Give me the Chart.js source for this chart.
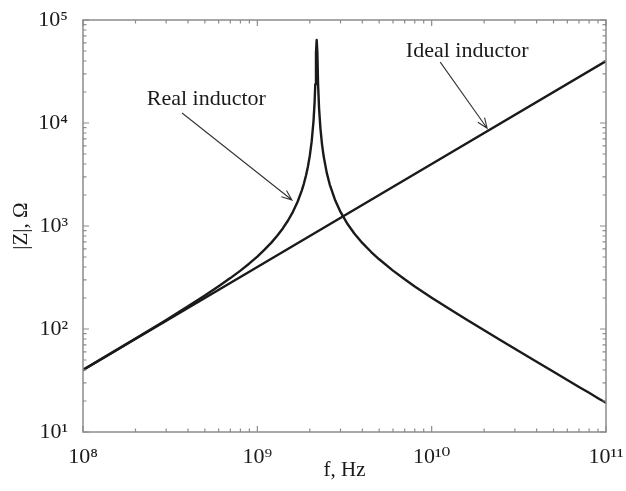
<!DOCTYPE html>
<html>
<head>
<meta charset="utf-8">
<script src="https://cdn.jsdelivr.net/npm/chart.js@4.4.1/dist/chart.umd.min.js"></script>
<style>
  html, body { margin: 0; padding: 0; background: #ffffff; }
  #wrap { width: 626px; height: 491px; }
</style>
</head>
<body>
<div id="wrap"><canvas id="c" width="626" height="491"></canvas></div>
<script>
// ---- data ----
const realFreq = [1.0e8, 1.5e8, 2e8, 3e8, 4e8, 5e8, 6e8, 7e8, 8e8, 9e8,
  1.0e9, 1.1e9, 1.2e9, 1.3e9, 1.4e9, 1.5e9, 1.6e9, 1.7e9, 1.8e9, 1.85e9,
  1.9e9, 1.95e9, 2.0e9, 2.05e9, 2.1e9, 2.13e9, 2.15e9, 2.17e9, 2.19e9,
  2.21e9, 2.23e9, 2.26e9, 2.3e9, 2.35e9, 2.4e9, 2.5e9, 2.6e9, 2.8e9,
  3.0e9, 3.3e9, 3.6e9, 4.0e9, 4.5e9, 5e9, 6e9, 7e9, 8e9, 1e10, 1.3e10,
  1.6e10, 2e10, 2.5e10, 3e10, 4e10, 5e10, 6e10, 7e10, 8e10, 9e10, 1e11];
const realZ = [40.1, 60.3, 80.7, 122, 166, 211, 260, 312, 369, 433,
  505, 589, 686, 803, 947, 1130, 1373, 1711, 2219, 2584,
  3073, 3765, 4819, 6624, 10435, 15760, 23760, 47950, 64000,
  48300, 24170, 13920, 8930, 6206, 4776, 3299, 2540, 1765,
  1369, 1039, 846, 685, 559, 475, 369, 304, 259, 201.5, 152,
  122, 97.1, 77.3, 64.3, 48.1, 38.4, 32.0, 27.4, 24.0, 21.3, 19.2];
const idealFreq = [1e8, 1e9, 1e10, 1e11];
const idealZ = [40, 400, 4000, 40000];

const xTickValues = [1e8, 1e9, 1e10, 1e11];
const yTickValues = [1e1, 1e2, 1e3, 1e4, 1e5];
const xTickLabels = ['10⁸', '10⁹', '10¹⁰', '10¹¹'];
const yTickLabels = ['10¹', '10²', '10³', '10⁴', '10⁵'];

const xTitle = 'f, Hz';
const yTitle = '|Z|, Ω';

// annotations
const annLabels = ['Real inductor', 'Ideal inductor'];
const annTextAt = [[5.1e8, 17000], [1.6e10, 50000]];
const annArrowFrom = [[3.7e8, 12500], [1.12e10, 39000]];
const annArrowTo = [[1.58e9, 1790], [2.08e10, 8900]];

// ---- chart ----
const FONT = "'Liberation Serif', 'Times New Roman', 'DejaVu Serif', serif";
const INK = '#1a1a1a';
const FRAME = '#8c8c8c';

function pts(xs, ys) { return xs.map((x, i) => ({ x: x, y: ys[i] })); }

const framePlugin = {
  id: 'frameTicks',
  afterDatasetsDraw(chart) {
    const { ctx, chartArea: a, scales: { x, y } } = chart;
    ctx.save();
    ctx.strokeStyle = FRAME;
    ctx.lineWidth = 1.5;
    ctx.strokeRect(a.left, a.top, a.right - a.left, a.bottom - a.top);
    ctx.lineWidth = 1.2;
    ctx.beginPath();
    for (let d = 8; d <= 11; d++) {
      for (let m = 1; m <= 9; m++) {
        const v = m * Math.pow(10, d);
        if (v > 1.0001e11) continue;
        const px = x.getPixelForValue(v);
        const L = m === 1 ? 6 : 3.5;
        ctx.moveTo(px, a.bottom); ctx.lineTo(px, a.bottom - L);
        ctx.moveTo(px, a.top); ctx.lineTo(px, a.top + L);
      }
    }
    for (let d = 1; d <= 5; d++) {
      for (let m = 1; m <= 9; m++) {
        const v = m * Math.pow(10, d);
        if (v > 1.0001e5) continue;
        const py = y.getPixelForValue(v);
        const L = m === 1 ? 6 : 3.5;
        ctx.moveTo(a.left, py); ctx.lineTo(a.left + L, py);
        ctx.moveTo(a.right, py); ctx.lineTo(a.right - L, py);
      }
    }
    ctx.stroke();
    ctx.restore();
  }
};

const annotationPlugin = {
  id: 'arrows',
  afterDatasetsDraw(chart) {
    const { ctx, scales: { x, y } } = chart;
    ctx.save();
    ctx.font = '22px ' + FONT;
    ctx.fillStyle = INK;
    ctx.textAlign = 'center';
    ctx.textBaseline = 'middle';
    ctx.strokeStyle = '#333';
    ctx.lineWidth = 1.1;
    annLabels.forEach((t, i) => {
      ctx.fillText(t, x.getPixelForValue(annTextAt[i][0]), y.getPixelForValue(annTextAt[i][1]));
      const x0 = x.getPixelForValue(annArrowFrom[i][0]), y0 = y.getPixelForValue(annArrowFrom[i][1]);
      const x1 = x.getPixelForValue(annArrowTo[i][0]), y1 = y.getPixelForValue(annArrowTo[i][1]);
      const ang = Math.atan2(y1 - y0, x1 - x0);
      const h = 11, sp = 0.38;
      ctx.beginPath();
      ctx.moveTo(x0, y0); ctx.lineTo(x1, y1);
      ctx.moveTo(x1 - h * Math.cos(ang - sp), y1 - h * Math.sin(ang - sp));
      ctx.lineTo(x1, y1);
      ctx.lineTo(x1 - h * Math.cos(ang + sp), y1 - h * Math.sin(ang + sp));
      ctx.stroke();
    });
    ctx.restore();
  }
};

new Chart(document.getElementById('c'), {
  type: 'scatter',
  data: {
    datasets: [
      { label: 'Real inductor', data: pts(realFreq, realZ), showLine: true,
        borderColor: INK, borderWidth: 2.4, pointRadius: 0, tension: 0,
        borderJoinStyle: 'round', borderCapStyle: 'round' },
      { label: 'Ideal inductor', data: pts(idealFreq, idealZ), showLine: true,
        borderColor: INK, borderWidth: 2.4, pointRadius: 0, tension: 0 }
    ]
  },
  options: {
    responsive: false,
    animation: false,
    devicePixelRatio: 1,
    layout: { padding: { left: 0, right: 20, top: 20, bottom: 0 } },
    plugins: { legend: { display: false }, tooltip: { enabled: false } },
    scales: {
      x: {
        type: 'logarithmic', min: 1e8, max: 1e11,
        afterBuildTicks: s => { s.ticks = xTickValues.map(v => ({ value: v })); },
        afterFit: s => { s.height = 59; s.paddingLeft = 0; s.paddingRight = 0; },
        grid: { display: false },
        border: { display: false },
        ticks: {
          autoSkip: false, maxRotation: 0, padding: 4, color: INK,
          font: { family: FONT, size: 22 },
          callback: v => { const i = xTickValues.indexOf(v); return i >= 0 ? xTickLabels[i] : ''; }
        },
        title: { display: true, text: xTitle, color: INK, font: { family: FONT, size: 21 },
                 padding: { top: 0, bottom: 8 } }
      },
      y: {
        type: 'logarithmic', min: 10, max: 1e5,
        afterBuildTicks: s => { s.ticks = yTickValues.map(v => ({ value: v })); },
        afterFit: s => { s.width = 83; s.paddingTop = 0; s.paddingBottom = 0; },
        grid: { display: false },
        border: { display: false },
        ticks: {
          autoSkip: false, padding: 7, color: INK,
          font: { family: FONT, size: 22 },
          callback: v => { const i = yTickValues.indexOf(v); return i >= 0 ? yTickLabels[i] : ''; }
        },
        title: { display: true, text: yTitle, color: INK, font: { family: FONT, size: 21 },
                 padding: { top: 9, bottom: 0 } }
      }
    }
  },
  plugins: [framePlugin, annotationPlugin]
});
</script>
</body>
</html>
